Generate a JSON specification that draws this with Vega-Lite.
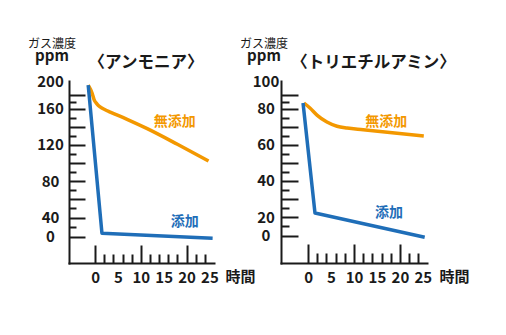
{
  "$schema": "https://vega.github.io/schema/vega-lite/v6.json",
  "autosize": {"type": "pad"},
  "padding": {"left": 27, "top": 37, "right": 5, "bottom": 5},
  "background": "white",
  "spacing": 67,
  "bounds": "flush",
  "config": {
    "view": {"stroke": null},
    "font": "Noto Sans CJK JP",
    "axis": {
      "grid": false,
      "domainColor": "#1a1a1a",
      "domainWidth": 2,
      "domainCap": "square",
      "tickColor": "#1a1a1a",
      "tickWidth": 2,
      "labelColor": "#1a1a1a",
      "labelFontSize": 15,
      "labelFontWeight": "bold",
      "labelFlush": false,
      "labelOverlap": false,
      "labelBound": false,
      "titleColor": "#1a1a1a",
      "titleFontSize": 15,
      "titleFontWeight": "bold",
      "titleAngle": 0,
      "titleAlign": "center",
      "titleBaseline": "middle"
    },
    "title": {
      "anchor": "start",
      "frame": "group",
      "offset": -10.5,
      "fontSize": 12,
      "fontWeight": "normal",
      "color": "#1a1a1a",
      "subtitleFontSize": 15,
      "subtitleFontWeight": "bold",
      "subtitleColor": "#1a1a1a",
      "subtitlePadding": -2
    }
  },
  "datasets": {
    "ammonia": [
      {"series": "無添加", "time": -1.5, "ppm": 194},
      {"series": "無添加", "time": -0.66, "ppm": 182.5},
      {"series": "無添加", "time": -0.22, "ppm": 173},
      {"series": "無添加", "time": 0.44, "ppm": 166.5},
      {"series": "無添加", "time": 1.1, "ppm": 162.4},
      {"series": "無添加", "time": 2.2, "ppm": 158.6},
      {"series": "無添加", "time": 3.3, "ppm": 156.1},
      {"series": "無添加", "time": 7.0, "ppm": 148.1},
      {"series": "無添加", "time": 11.4, "ppm": 137.8},
      {"series": "無添加", "time": 18.0, "ppm": 120.6},
      {"series": "無添加", "time": 24.8, "ppm": 102.2},
      {"series": "添加", "time": -1.5, "ppm": 194},
      {"series": "添加", "time": 1.5, "ppm": 7},
      {"series": "添加", "time": 25.7, "ppm": -1}
    ],
    "triethylamine": [
      {"series": "無添加", "time": -0.9, "ppm": 84},
      {"series": "無添加", "time": 0.4, "ppm": 80.4},
      {"series": "無添加", "time": 2.0, "ppm": 76.2},
      {"series": "無添加", "time": 4.1, "ppm": 72.5},
      {"series": "無添加", "time": 6.3, "ppm": 70.2},
      {"series": "無添加", "time": 8.5, "ppm": 69.2},
      {"series": "無添加", "time": 12.0, "ppm": 68.3},
      {"series": "無添加", "time": 25.2, "ppm": 64.8},
      {"series": "添加", "time": -1.1, "ppm": 84},
      {"series": "添加", "time": 1.5, "ppm": 22.2},
      {"series": "添加", "time": 25.4, "ppm": -0.5}
    ],
    "labels": [
      {"gas": "ammonia", "series": "無添加", "time": 17.4, "ppm": 145},
      {"gas": "ammonia", "series": "添加", "time": 19.6, "ppm": 30},
      {"gas": "triethylamine", "series": "無添加", "time": 17.0, "ppm": 72.5},
      {"gas": "triethylamine", "series": "添加", "time": 17.6, "ppm": 22}
    ]
  },
  "hconcat": [
    {
      "width": 145,
      "height": 182,
      "title": {"text": "ガス濃度", "subtitle": "ppm", "align": "center", "dx": -17},
      "encoding": {
        "x": {
          "field": "time", "type": "quantitative",
          "scale": {"domain": [-5.7, 26], "nice": false, "zero": false},
          "axis": {
            "values": [0, 2, 4, 5, 6, 8, 10, 12, 14, 15, 16, 18, 20, 22, 24, 25],
            "labelExpr": "datum.value % 5 == 0 ? datum.label : ''",
            "tickSize": {"condition": [{"test": "datum.value % 10 == 0", "value": -18}, {"test": "datum.value % 2 == 0", "value": -9}], "value": 0},
            "labelPadding": {"condition": [{"test": "datum.value % 10 == 0", "value": 25}, {"test": "datum.value % 2 == 0", "value": 16}], "value": 7},
            "title": "時間", "titleX": 171, "titleY": 13
          }
        },
        "y": {
          "field": "ppm", "type": "quantitative",
          "scale": {"domain": [-15, 0, 40, 160, 200], "range": [182, 155.5, 136.5, 27.5, 0], "nice": false, "zero": false},
          "axis": {
            "values": [0, 20, 40, 50, 60, 70, 80, 90, 100, 110, 120, 130, 140, 150, 160, 170, 180, 200],
            "labelExpr": "datum.value % 40 == 0 ? datum.label : ''",
            "labelAlign": "center",
            "labelBaseline": "middle",
            "tickSize": {"condition": [{"test": "datum.value == 200", "value": 0}, {"test": "datum.value == 20 || datum.value % 20 != 0", "value": -7}], "value": -16},
            "labelPadding": {"condition": [{"test": "datum.value == 200", "value": 19}, {"test": "datum.value == 20 || datum.value % 20 != 0", "value": 26}], "value": 35},
            "title": "〈アンモニア〉", "titleX": 76.5, "titleY": -19, "titleFontSize": 16.5
          }
        }
      },
      "layer": [
        {
          "data": {"name": "ammonia"},
          "transform": [{"filter": "datum.series == '無添加'"}],
          "mark": {"type": "line", "strokeWidth": 3.5, "interpolate": "monotone", "strokeJoin": "round", "clip": false},
          "encoding": {"color": {"field": "series", "type": "nominal", "scale": {"domain": ["無添加", "添加"], "range": ["#f39800", "#1f6eb8"]}, "legend": null}}
        },
        {
          "data": {"name": "ammonia"},
          "transform": [{"filter": "datum.series == '添加'"}],
          "mark": {"type": "line", "strokeWidth": 3.5, "strokeJoin": "round", "clip": false},
          "encoding": {"color": {"field": "series", "type": "nominal", "legend": null}}
        },
        {
          "data": {"name": "labels"},
          "transform": [{"filter": "datum.gas == 'ammonia'"}],
          "mark": {"type": "text", "fontSize": 14, "fontWeight": "bold", "baseline": "middle"},
          "encoding": {"text": {"field": "series"}, "color": {"field": "series", "type": "nominal", "legend": null}}
        }
      ]
    },
    {
      "width": 146,
      "height": 182,
      "title": {"text": "ガス濃度", "subtitle": "ppm", "align": "center", "dx": -17},
      "encoding": {
        "x": {
          "field": "time", "type": "quantitative",
          "scale": {"domain": [-5.9, 25.9], "nice": false, "zero": false},
          "axis": {
            "values": [0, 2, 4, 5, 6, 8, 10, 12, 14, 15, 16, 18, 20, 22, 24, 25],
            "labelExpr": "datum.value % 5 == 0 ? datum.label : ''",
            "tickSize": {"condition": [{"test": "datum.value % 10 == 0", "value": -19}, {"test": "datum.value % 2 == 0", "value": -10}], "value": 0},
            "labelPadding": {"condition": [{"test": "datum.value % 10 == 0", "value": 26}, {"test": "datum.value % 2 == 0", "value": 17}], "value": 7},
            "title": "時間", "titleX": 173, "titleY": 13
          }
        },
        "y": {
          "field": "ppm", "type": "quantitative",
          "scale": {"domain": [-7.5, 0, 20, 80, 100], "range": [182, 154.5, 136, 27.5, 0], "nice": false, "zero": false},
          "axis": {
            "values": [0, 10, 20, 25, 30, 35, 40, 45, 50, 55, 60, 65, 70, 75, 80, 85, 90, 100],
            "labelExpr": "datum.value % 20 == 0 ? datum.label : ''",
            "labelAlign": "center",
            "labelBaseline": "middle",
            "tickSize": {"condition": [{"test": "datum.value == 100", "value": 0}, {"test": "datum.value == 10 || datum.value % 10 != 0", "value": -8}], "value": -17},
            "labelPadding": {"condition": [{"test": "datum.value == 100", "value": 15.5}, {"test": "datum.value == 10 || datum.value % 10 != 0", "value": 23.5}], "value": 32.5},
            "title": "〈トリエチルアミン〉", "titleX": 92, "titleY": -19, "titleFontSize": 16.5
          }
        }
      },
      "layer": [
        {
          "data": {"name": "triethylamine"},
          "transform": [{"filter": "datum.series == '無添加'"}],
          "mark": {"type": "line", "strokeWidth": 3.5, "interpolate": "monotone", "strokeJoin": "round", "clip": false},
          "encoding": {"color": {"field": "series", "type": "nominal", "scale": {"domain": ["無添加", "添加"], "range": ["#f39800", "#1f6eb8"]}, "legend": null}}
        },
        {
          "data": {"name": "triethylamine"},
          "transform": [{"filter": "datum.series == '添加'"}],
          "mark": {"type": "line", "strokeWidth": 3.5, "strokeJoin": "round", "clip": false},
          "encoding": {"color": {"field": "series", "type": "nominal", "legend": null}}
        },
        {
          "data": {"name": "labels"},
          "transform": [{"filter": "datum.gas == 'triethylamine'"}],
          "mark": {"type": "text", "fontSize": 14, "fontWeight": "bold", "baseline": "middle"},
          "encoding": {"text": {"field": "series"}, "color": {"field": "series", "type": "nominal", "legend": null}}
        }
      ]
    }
  ]
}
